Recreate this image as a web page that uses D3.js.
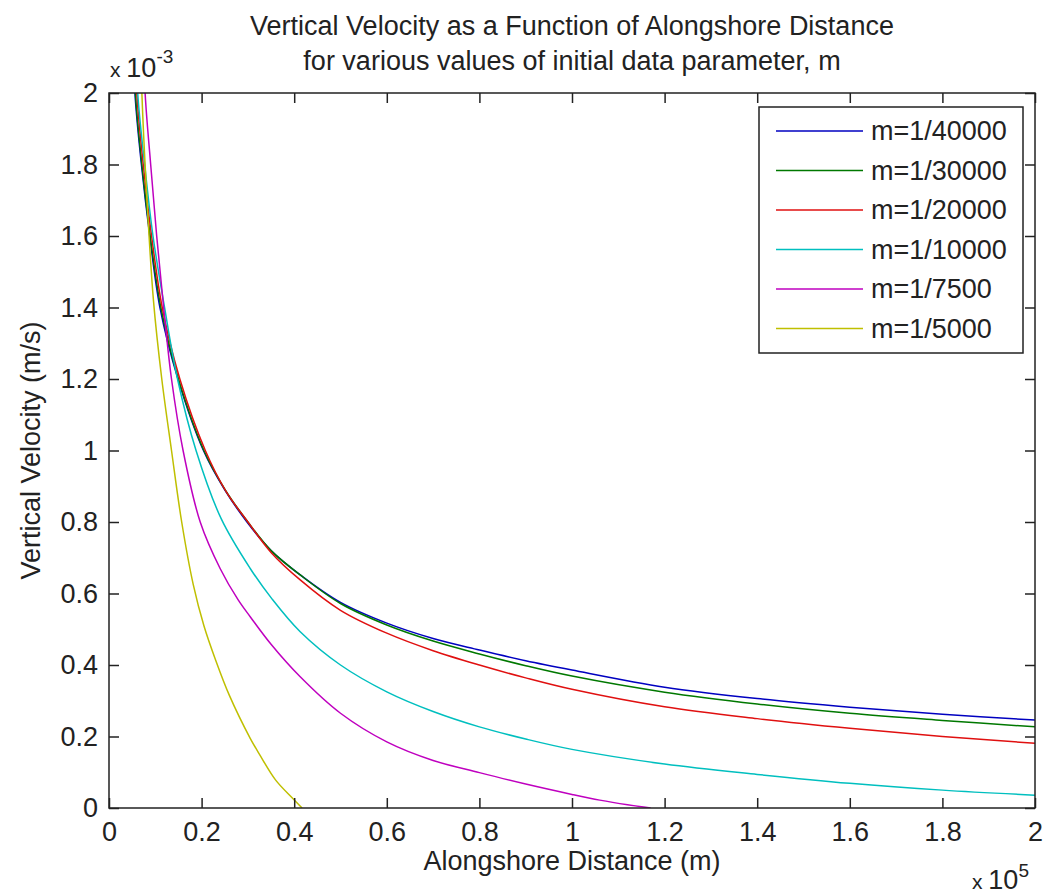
<!DOCTYPE html>
<html>
<head>
<meta charset="utf-8">
<script src="https://cdn.jsdelivr.net/npm/d3@7"></script>
<style>
  body { margin: 0; background: #fff; }
  text { font-family: "Liberation Sans", Arial, sans-serif; fill: #222; }
</style>
</head>
<body>
<div id="container"></div>
<script>
// axis values are in the plotted units: distance x 10^5 m, velocity x 10^-3 m/s
var xTicks = [0, 0.2, 0.4, 0.6, 0.8, 1, 1.2, 1.4, 1.6, 1.8, 2];
var yTicks = [0, 0.2, 0.4, 0.6, 0.8, 1, 1.2, 1.4, 1.6, 1.8, 2];
var labels = ["m=1/40000", "m=1/30000", "m=1/20000", "m=1/10000", "m=1/7500", "m=1/5000"];

var dist40000 = [0.050, 0.056, 0.070, 0.088, 0.110, 0.149, 0.204, 0.250, 0.298, 0.350, 0.413, 0.500, 0.600, 0.700, 0.800, 0.900, 1.000, 1.200, 1.400, 1.600, 1.800, 2.000];
var vel40000  = [2.25, 2.00, 1.80, 1.60, 1.40, 1.20, 1.00, 0.89, 0.80, 0.72, 0.652, 0.575, 0.517, 0.474, 0.442, 0.412, 0.386, 0.338, 0.306, 0.282, 0.262, 0.246];

var dist30000 = [0.051, 0.057, 0.071, 0.089, 0.112, 0.150, 0.205, 0.251, 0.300, 0.350, 0.413, 0.500, 0.600, 0.700, 0.800, 0.900, 1.000, 1.200, 1.400, 1.600, 1.800, 2.000];
var vel30000  = [2.25, 2.00, 1.80, 1.60, 1.40, 1.20, 1.00, 0.89, 0.80, 0.72, 0.652, 0.572, 0.512, 0.467, 0.431, 0.398, 0.369, 0.324, 0.291, 0.265, 0.245, 0.227];

var dist20000 = [0.054, 0.060, 0.074, 0.092, 0.115, 0.153, 0.208, 0.253, 0.300, 0.350, 0.413, 0.500, 0.600, 0.700, 0.800, 0.900, 1.000, 1.200, 1.400, 1.600, 1.800, 2.000];
var vel20000  = [2.25, 2.00, 1.80, 1.60, 1.40, 1.20, 1.00, 0.885, 0.80, 0.715, 0.638, 0.553, 0.489, 0.440, 0.400, 0.364, 0.332, 0.283, 0.250, 0.223, 0.200, 0.181];

var dist10000 = [0.056, 0.062, 0.077, 0.095, 0.120, 0.148, 0.188, 0.242, 0.305, 0.352, 0.413, 0.500, 0.600, 0.700, 0.800, 0.900, 1.000, 1.200, 1.400, 1.600, 1.800, 2.000];
var vel10000  = [2.25, 2.00, 1.80, 1.60, 1.40, 1.20, 1.00, 0.81, 0.67, 0.585, 0.493, 0.400, 0.325, 0.270, 0.227, 0.193, 0.164, 0.123, 0.094, 0.069, 0.050, 0.036];

var dist7500 = [0.072, 0.078, 0.090, 0.103, 0.118, 0.135, 0.160, 0.197, 0.240, 0.279, 0.305, 0.350, 0.413, 0.500, 0.600, 0.700, 0.800, 0.900, 1.000, 1.060, 1.120, 1.170];
var vel7500  = [2.25, 2.00, 1.80, 1.60, 1.40, 1.20, 1.00, 0.80, 0.67, 0.582, 0.535, 0.458, 0.367, 0.265, 0.185, 0.133, 0.099, 0.067, 0.038, 0.022, 0.009, 0.0];

var dist5000 = [0.066, 0.071, 0.080, 0.096, 0.114, 0.135, 0.157, 0.182, 0.205, 0.230, 0.260, 0.305, 0.326, 0.360, 0.396, 0.417];
var vel5000  = [2.25, 2.00, 1.75, 1.42, 1.20, 1.00, 0.80, 0.625, 0.51, 0.415, 0.315, 0.195, 0.148, 0.078, 0.028, 0.0];

var colors = ["#0000c0", "#007800", "#e01010", "#00bfbf", "#bf00bf", "#bfbf00"];

var series = [
  {dist: dist40000, vel: vel40000},
  {dist: dist30000, vel: vel30000},
  {dist: dist20000, vel: vel20000},
  {dist: dist10000, vel: vel10000},
  {dist: dist7500, vel: vel7500},
  {dist: dist5000, vel: vel5000}
];

var width = 1049, height = 895;
var plotL = 109, plotR = 1035, plotT = 93, plotB = 808;

var svg = d3.select("#container").append("svg")
  .attr("width", width)
  .attr("height", height);

var x = d3.scaleLinear().domain([0, 2]).range([plotL, plotR]);
var y = d3.scaleLinear().domain([0, 2]).range([plotB, plotT]);

svg.append("defs").append("clipPath").attr("id", "plotclip")
  .append("rect")
  .attr("x", plotL).attr("y", plotT)
  .attr("width", plotR - plotL).attr("height", plotB - plotT);

var line = d3.line()
  .x(function(d) { return x(d[0]); })
  .y(function(d) { return y(d[1]); })
  .curve(d3.curveCatmullRom.alpha(0.5));

// curves
svg.append("g")
  .attr("clip-path", "url(#plotclip)")
  .selectAll("path")
  .data(series)
  .enter()
  .append("path")
  .attr("d", function(s) { return line(d3.zip(s.dist, s.vel)); })
  .attr("fill", "none")
  .attr("stroke", function(s, i) { return colors[i]; })
  .attr("stroke-width", 1.5);

// axes, ticks inside on all four sides
var tickLen = 10;
var fmt = function(d) { return d3.format("~g")(d); };
var axisColor = "#222";

svg.append("g").attr("transform", "translate(0," + plotB + ")")
  .call(d3.axisBottom(x).tickValues(xTicks).tickSize(-tickLen).tickPadding(14).tickFormat(fmt))
  .call(function(g) {
    g.select(".domain").remove();
    g.selectAll("line").attr("stroke", axisColor).attr("stroke-width", 1.5);
    g.selectAll("text").attr("font-size", 27).attr("fill", "#222").attr("y", 14).attr("dy", "0.71em");
  });

svg.append("g").attr("transform", "translate(0," + plotT + ")")
  .call(d3.axisTop(x).tickValues(xTicks).tickSize(-tickLen).tickFormat(""))
  .call(function(g) {
    g.select(".domain").remove();
    g.selectAll("line").attr("stroke", axisColor).attr("stroke-width", 1.5);
  });

svg.append("g").attr("transform", "translate(" + plotL + ",0)")
  .call(d3.axisLeft(y).tickValues(yTicks).tickSize(-tickLen).tickFormat(fmt))
  .call(function(g) {
    g.select(".domain").remove();
    g.selectAll("line").attr("stroke", axisColor).attr("stroke-width", 1.5);
    g.selectAll("text").attr("font-size", 27).attr("fill", "#222").attr("x", -11);
  });

svg.append("g").attr("transform", "translate(" + plotR + ",0)")
  .call(d3.axisRight(y).tickValues(yTicks).tickSize(-tickLen).tickFormat(""))
  .call(function(g) {
    g.select(".domain").remove();
    g.selectAll("line").attr("stroke", axisColor).attr("stroke-width", 1.5);
  });

svg.append("rect")
  .attr("x", plotL).attr("y", plotT)
  .attr("width", plotR - plotL).attr("height", plotB - plotT)
  .attr("fill", "none")
  .attr("stroke", axisColor)
  .attr("stroke-width", 1.5);

// exponent labels
var e1 = svg.append("text").attr("x", 110).attr("y", 77).attr("font-size", 21);
e1.append("tspan").text("x ");
e1.append("tspan").attr("font-size", 27).text("10");
e1.append("tspan").attr("font-size", 19).attr("dy", -14).text("-3");

var e2 = svg.append("text").attr("x", 972).attr("y", 889).attr("font-size", 21);
e2.append("tspan").text("x ");
e2.append("tspan").attr("font-size", 27).text("10");
e2.append("tspan").attr("font-size", 19).attr("dy", -12).text("5");

// title
var cx = (plotL + plotR) / 2;
svg.append("text").attr("x", cx).attr("y", 35)
  .attr("text-anchor", "middle").attr("font-size", 27)
  .text("Vertical Velocity as a Function of Alongshore Distance");
svg.append("text").attr("x", cx).attr("y", 70)
  .attr("text-anchor", "middle").attr("font-size", 27)
  .text("for various values of initial data parameter, m");

// axis labels
svg.append("text").attr("x", cx).attr("y", 870)
  .attr("text-anchor", "middle").attr("font-size", 27)
  .text("Alongshore Distance (m)");
svg.append("text")
  .attr("transform", "translate(40," + ((plotT + plotB) / 2) + ") rotate(-90)")
  .attr("text-anchor", "middle").attr("font-size", 27)
  .text("Vertical Velocity (m/s)");

// legend
var legend = svg.append("g");
legend.append("rect")
  .attr("x", 759).attr("y", 107)
  .attr("width", 264).attr("height", 246)
  .attr("fill", "#fff")
  .attr("stroke", axisColor)
  .attr("stroke-width", 1.5);

var rows = legend.selectAll("g.row")
  .data(labels)
  .enter()
  .append("g")
  .attr("class", "row")
  .attr("transform", function(d, i) { return "translate(0," + (131 + i * 39.5) + ")"; });

rows.append("line")
  .attr("x1", 776).attr("x2", 863)
  .attr("stroke", function(d, i) { return colors[i]; })
  .attr("stroke-width", 1.5);

rows.append("text")
  .attr("x", 871)
  .attr("dy", "0.35em")
  .attr("font-size", 27)
  .text(function(d) { return d; });
</script>
</body>
</html>
